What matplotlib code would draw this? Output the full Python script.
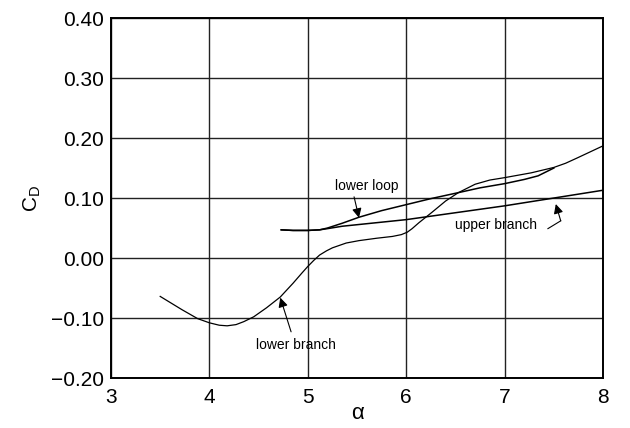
import matplotlib
matplotlib.use("Agg")
import matplotlib.pyplot as plt

plt.rcParams['font.family'] = ['Liberation Sans', 'DejaVu Sans']
plt.rcParams['mathtext.fontset'] = 'custom'
plt.rcParams['mathtext.rm'] = 'Liberation Sans'
plt.rcParams['mathtext.default'] = 'regular'

# lower branch of the drag curve
lower_alpha = [3.50, 3.60, 3.72, 3.88, 4.00, 4.10, 4.18, 4.27, 4.35, 4.45, 4.58, 4.72,
               4.85, 4.94, 5.00, 5.06, 5.12, 5.19, 5.25, 5.32, 5.39, 5.52, 5.70, 5.86,
               5.95, 6.01, 6.06, 6.13, 6.26, 6.40, 6.53, 6.70, 6.85, 7.00, 7.27, 7.50,
               7.62, 7.74, 7.87, 8.00]
lower_cd = [-0.064, -0.074, -0.086, -0.101, -0.108, -0.112, -0.113, -0.111, -0.106,
            -0.098, -0.083, -0.065, -0.042, -0.025, -0.014, -0.004, 0.005, 0.012, 0.017,
            0.021, 0.025, 0.029, 0.033, 0.036, 0.039, 0.043, 0.049, 0.059, 0.076, 0.095,
            0.109, 0.123, 0.130, 0.134, 0.142, 0.151, 0.158, 0.167, 0.177, 0.187]

# upper branch
upper_alpha = [4.73, 4.85, 5.00, 5.12, 5.20, 5.35, 6.00, 7.00, 7.50, 8.00]
upper_cd = [0.047, 0.046, 0.046, 0.047, 0.049, 0.053, 0.064, 0.087, 0.100, 0.113]

# lower loop
loop_alpha = [4.73, 4.85, 5.00, 5.12, 5.20, 5.35, 5.52, 5.75, 6.00, 6.25, 6.53, 6.75,
              7.00, 7.20, 7.34, 7.50]
loop_cd = [0.047, 0.046, 0.046, 0.047, 0.050, 0.058, 0.068, 0.079, 0.089, 0.099, 0.109,
           0.117, 0.124, 0.131, 0.137, 0.150]

fig = plt.figure(figsize=(6.3, 4.28), dpi=100)
ax = fig.add_axes([0.1762, 0.1168, 0.781, 0.841])

ax.plot(lower_alpha, lower_cd, color='black', lw=0.9)
ax.plot(upper_alpha, upper_cd, color='black', lw=1.1)
ax.plot(loop_alpha, loop_cd, color='black', lw=1.1)

ax.set_xlim(3, 8)
ax.set_ylim(-0.20, 0.40)
ax.set_xticks([3, 4, 5, 6, 7, 8])
ax.set_yticks([-0.20, -0.10, 0.00, 0.10, 0.20, 0.30, 0.40])
ax.set_yticklabels(['\u22120.20', '\u22120.10', '0.00', '0.10', '0.20', '0.30', '0.40'])
ax.tick_params(length=0, labelsize=15, pad=5)
ax.tick_params(axis='x', pad=7)
ax.grid(True, color='#222222', lw=1.0)
for s in ax.spines.values():
    s.set_linewidth(1.4)

ax.set_xlabel('\u03b1', fontsize=16, labelpad=-3)
ax.set_ylabel('C$_D$', fontsize=15, labelpad=6)

arrow = dict(arrowstyle='-|>', color='black', lw=0.8, mutation_scale=14, shrinkA=0, shrinkB=0)
ax.text(5.60, 0.120, 'lower loop', fontsize=10, ha='center', va='center')
ax.annotate('', xy=(5.52, 0.067), xytext=(5.47, 0.102), arrowprops=arrow)

ax.text(6.91, 0.055, 'upper branch', fontsize=10, ha='center', va='center')
ax.plot([7.44, 7.57], [0.049, 0.062], color='black', lw=0.8)
ax.annotate('', xy=(7.52, 0.090), xytext=(7.57, 0.062), arrowprops=arrow)

ax.text(4.88, -0.145, 'lower branch', fontsize=10, ha='center', va='center')
ax.annotate('', xy=(4.72, -0.066), xytext=(4.83, -0.123), arrowprops=arrow)

fig.savefig('out.png', dpi=100)
